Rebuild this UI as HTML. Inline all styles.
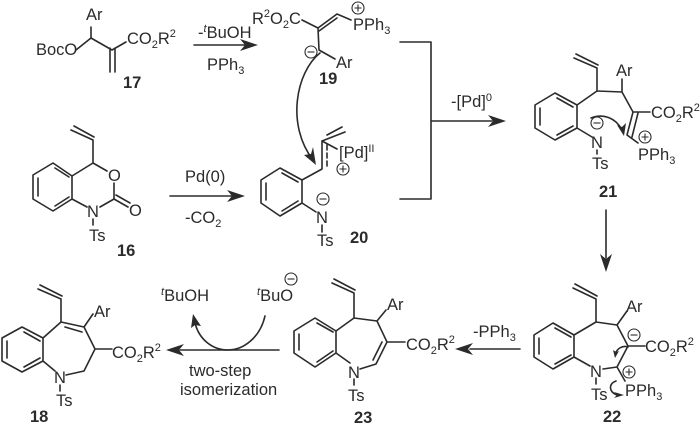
<!DOCTYPE html>
<html><head><meta charset="utf-8">
<style>
html,body{margin:0;padding:0;background:#fff;width:700px;height:424px;overflow:hidden}
svg{display:block;filter:blur(0.3px)}
text{font-family:"Liberation Sans",sans-serif;font-size:16.5px;fill:#2b2b2b}
.b{font-weight:bold}
.s{font-size:11px}
.l{fill:none;stroke:#2b2b2b;stroke-width:1.6;stroke-linecap:round;stroke-linejoin:round}
.a{fill:#2b2b2b;stroke:none}
.c{fill:#fff;stroke:#2b2b2b;stroke-width:1.1}
.k{fill:none;stroke:#2b2b2b;stroke-width:1.1}
</style></head><body>
<svg width="700" height="424" viewBox="0 0 700 424" xmlns="http://www.w3.org/2000/svg">
<defs>
<g id="minus"><circle class="c" r="6"/><path class="k" d="M-3.5 0H3.5"/></g>
<g id="plus"><circle class="c" r="6"/><path class="k" d="M-3.5 0H3.5M0 -3.5V3.5"/></g>
</defs>

<!-- 17 -->
<path class="l" d="M76 50L91 38V27M91 38L112 50L126 42M110 48V72M115 48V72"/>
<text x="86" y="20">Ar</text>
<text x="36" y="55">BocO</text>
<text x="127" y="44">CO<tspan class="s" dy="4">2</tspan><tspan dy="-4">R</tspan><tspan class="s" dy="-7">2</tspan></text>
<text class="b" x="123" y="88">17</text>

<!-- arrow 1 -->
<path class="l" d="M194 45H245"/><path class="a" d="M258 45L240 39L245 45L240 51Z"/>
<text x="198" y="38">-<tspan class="s" dy="-6" font-style="italic">t</tspan><tspan dy="6">BuOH</tspan></text>
<text x="207" y="70">PPh<tspan class="s" dy="4">3</tspan></text>

<!-- 19 -->
<text x="252" y="24">R<tspan class="s" dy="-7">2</tspan><tspan dy="7">O</tspan><tspan class="s" dy="4">2</tspan><tspan dy="-4">C</tspan></text>
<path class="l" d="M302 20L318 28L337 14L351 20M319 31L337 18M318 28L319 50L335 59"/>
<text x="353" y="30">PPh<tspan class="s" dy="4">3</tspan></text>
<use href="#plus" x="358" y="8"/>
<use href="#minus" x="311" y="52"/>
<text x="336" y="68">Ar</text>
<text class="b" x="319" y="84">19</text>

<!-- curved 19 to 20 -->
<path class="l" d="M320 53C296 72 286 125 313 160"/>
<path class="a" d="M316 165L304 155L311 154L313 147Z"/>

<!-- 16 -->
<path class="l" d="M71 130L93 140M74 126L94 137M93 140V163L107 171M93 163L72 176L53 163L33 175V199L53 211L72 199V176M38 178V196M55 168L69 177M55 206L69 197M72 199L87 207M100 207L114 199V183M114 199L128 207M116 195L130 203M93 219V225"/>
<text x="108" y="181">O</text>
<text x="129" y="216">O</text>
<text x="87" y="217">N</text>
<text x="89" y="241">Ts</text>
<text class="b" x="117" y="256">16</text>

<!-- arrow 2 -->
<path class="l" d="M170 196H232"/><path class="a" d="M245 196L227 190L232 196L227 202Z"/>
<text x="185" y="182">Pd(0)</text>
<text x="185" y="223">-CO<tspan class="s" dy="4">2</tspan></text>

<!-- 20 -->
<path class="l" d="M302 180L280 168L261 180V203L280 216L302 203V180M266 183V200M282 173L298 182M282 211L298 201M302 180L322 169V141L345 132M327 135L342 127M322 141L337 149M302 203L316 212M322 225V232"/>
<path class="l" stroke-dasharray="5 3" d="M327 145V169"/>
<text x="339" y="158">[Pd]<tspan class="s" dy="-6">II</tspan></text>
<use href="#plus" x="343" y="169"/>
<use href="#minus" x="323" y="199"/>
<text x="316" y="223">N</text>
<text x="317" y="246">Ts</text>
<text class="b" x="350" y="243">20</text>

<!-- bracket -->
<path class="l" d="M400 42H431V199H400M431 121H492"/>
<path class="a" d="M506 121L488 115L493 121L488 127Z"/>
<text x="451" y="107">-[Pd]<tspan class="s" dy="-6">0</tspan></text>

<!-- 21 -->
<path class="l" d="M574 58L597 68M576 54L598 65M597 68V91L622 92V79M622 92L633 112H650M633 112L627 135L638 143M638 113L632 137M597 91L577 105L555 93L535 105V128L555 140L577 128V105M540 108V125M557 98L573 107M557 135L573 126M577 128L592 137M597 150V154"/>
<text x="616" y="76">Ar</text>
<text x="651" y="118">CO<tspan class="s" dy="4">2</tspan><tspan dy="-4">R</tspan><tspan class="s" dy="-7">2</tspan></text>
<text x="638" y="160">PPh<tspan class="s" dy="4">3</tspan></text>
<text x="591" y="148">N</text>
<text x="592" y="169">Ts</text>
<use href="#minus" x="597" y="123"/>
<use href="#plus" x="645" y="137"/>
<path class="l" d="M591 118C603 113 616 118 622 130"/>
<path class="a" d="M624 136L617 125L622 127L626 123Z"/>
<text class="b" x="599" y="197">21</text>

<!-- down arrow -->
<path class="l" d="M606 210V258"/><path class="a" d="M606 272L600 254L606 259L612 254Z"/>

<!-- 22 -->
<path class="l" d="M573 288L596 299M575 284L597 296M596 299V322L617 325L627 311M617 325L628 346H645M628 346L617 367L603 369M617 367L625 381M596 322L574 335L553 323L534 335V357L553 369L574 357V335M539 338V354M555 328L571 337M555 364L571 355M574 357L590 366M596 378V384"/>
<text x="626" y="312">Ar</text>
<text x="645" y="352">CO<tspan class="s" dy="4">2</tspan><tspan dy="-4">R</tspan><tspan class="s" dy="-7">2</tspan></text>
<text x="590" y="377">N</text>
<text x="591" y="400">Ts</text>
<text x="625" y="396">PPh<tspan class="s" dy="4">3</tspan></text>
<use href="#minus" x="634" y="335"/>
<use href="#plus" x="629" y="372"/>
<path class="l" d="M628 347C622 345 617 349 615 354"/>
<path class="a" d="M615 358L613 350L616 352L619 351Z"/>
<path class="l" d="M616 381C608 384 609 392 617 395"/>
<path class="a" d="M624 395L614 392L617 395L614 398Z"/>
<text class="b" x="603" y="422">22</text>

<!-- arrow -PPh3 -->
<path class="l" d="M520 349H470"/><path class="a" d="M455 349L473 343L468 349L473 355Z"/>
<text x="473" y="337">-PPh<tspan class="s" dy="4">3</tspan></text>

<!-- 23 -->
<path class="l" d="M332 283L354 293M334 279L355 290M354 293V318L377 321L386 310M377 321L387 342H405M387 342L376 364L360 369M382 342L373 360M354 318L336 331L315 318L294 331V353L315 367L336 353V331M299 334V350M317 323L333 332M317 362L333 351M336 353L350 363M354 379V385"/>
<text x="387" y="310">Ar</text>
<text x="406" y="350">CO<tspan class="s" dy="4">2</tspan><tspan dy="-4">R</tspan><tspan class="s" dy="-7">2</tspan></text>
<text x="348" y="378">N</text>
<text x="348" y="401">Ts</text>
<text class="b" x="354" y="423">23</text>

<!-- arrow to 18 -->
<path class="l" d="M279 350H180"/><path class="a" d="M166 350L184 344L179 350L184 356Z"/>
<text x="189" y="376">two-step</text>
<text x="180" y="395">isomerization</text>
<text x="161" y="301"><tspan class="s" dy="-6" font-style="italic">t</tspan><tspan dy="6">BuOH</tspan></text>
<text x="257" y="301"><tspan class="s" dy="-6" font-style="italic">t</tspan><tspan dy="6">BuO</tspan></text>
<use href="#minus" x="291" y="279"/>
<path class="l" d="M265 316C260 338 243 350 228 350C212 350 199 339 195 323"/>
<path class="a" d="M193 314L191 328L195 325L201 326Z"/>

<!-- 18 -->
<path class="l" d="M38 289L61 299M40 285L62 296M61 299V322L84 327L93 314M65 327L82 332M61 322L43 338L22 327L2 338V361L22 372L43 361V338M7 341V358M24 332L40 341M24 367L40 358M84 327L95 349H112M95 349L84 371L66 375M43 361L55 371M60 385V391"/>
<text x="94" y="317">Ar</text>
<text x="112" y="358">CO<tspan class="s" dy="4">2</tspan><tspan dy="-4">R</tspan><tspan class="s" dy="-7">2</tspan></text>
<text x="54" y="383">N</text>
<text x="56" y="406">Ts</text>
<text class="b" x="30" y="422">18</text>
</svg>
</body></html>
